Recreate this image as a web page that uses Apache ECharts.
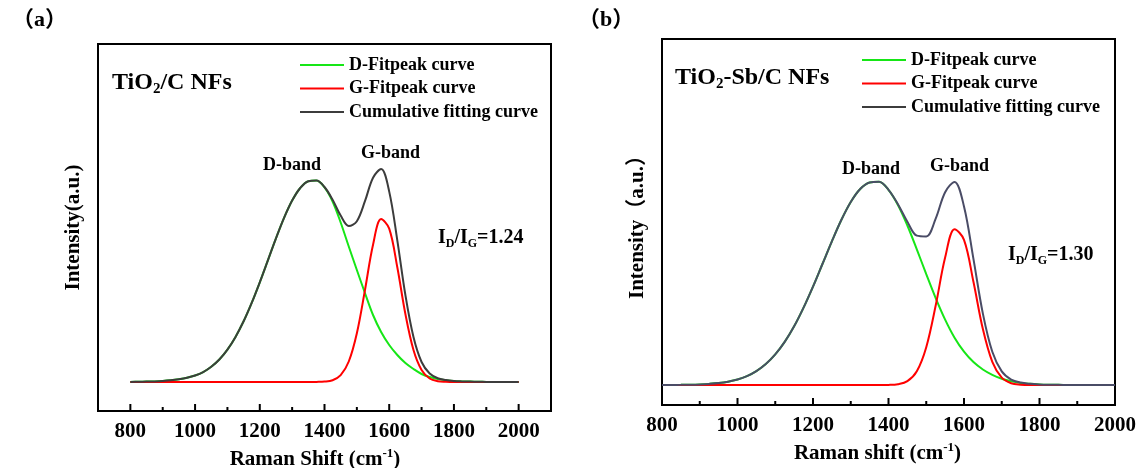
<!DOCTYPE html>
<html>
<head>
<meta charset="utf-8">
<style>
  html, body { margin: 0; padding: 0; background: #fff; }
  #main { width: 1146px; height: 468px; }
</style>
<script src="https://cdn.jsdelivr.net/npm/echarts@6/dist/echarts.min.js"></script>
</head>
<body>
<div id="main"></div>
<script>
// Raman shift positions (cm-1), every 25 cm-1, shared by both panels
const shift = [800, 825, 850, 875, 900, 925, 950, 975, 1000, 1025, 1050, 1075, 1100,
  1125, 1150, 1175, 1200, 1225, 1250, 1275, 1300, 1325, 1350, 1375, 1400, 1425,
  1450, 1475, 1500, 1525, 1550, 1575, 1600, 1625, 1650, 1675, 1700, 1725, 1750,
  1775, 1800, 1825, 1850, 1875, 1900, 1925, 1950, 1975, 2000];

// tick positions on the Raman shift axis
const majorTicks = [800, 1000, 1200, 1400, 1600, 1800, 2000];
const minorTicks = [900, 1100, 1300, 1500, 1700, 1900];

// (a) TiO2/C NFs  - intensity, arbitrary units
const dFitA = [0.1, 0.2, 0.4, 0.6, 1.0, 1.7, 2.8, 4.3, 6.5, 9.9, 15.2, 22.5, 32.4,
  45.1, 60.7, 79.1, 99.7, 121.6, 143.6, 164.1, 181.4, 194, 200.8, 201.4, 194.6, 180.5,
  159.5, 135.5, 112, 89, 67, 50, 37, 27, 19, 13, 8, 5, 3,
  1.8, 1, 0.6, 0.4, 0.2, 0.1, 0.05, 0, 0, 0];
const gFitA = [0, 0, 0, 0, 0, 0, 0, 0, 0, 0, 0, 0, 0,
  0, 0, 0, 0, 0, 0, 0, 0, 0, 0, 0.1, 0.4, 1.8,
  6.9, 20.5, 48.8, 91.8, 137.3, 162.9, 153.4, 114.7, 68, 32, 12, 3.5, 0.8,
  0.2, 0, 0, 0, 0, 0, 0, 0, 0, 0];
const cumA = [0.1, 0.2, 0.4, 0.6, 1.0, 1.7, 2.8, 4.3, 6.5, 9.9, 15.2, 22.5, 32.4,
  45.1, 60.7, 79.1, 99.7, 121.6, 143.6, 164.1, 181.4, 194, 200.8, 201.5, 195.0, 182.3,
  166.4, 156.0, 160.8, 180.8, 204.3, 212.9, 190.4, 141.7, 87, 45, 20, 8.5, 3.8,
  2.0, 1, 0.6, 0.4, 0.2, 0.1, 0.05, 0, 0, 0];

// (b) TiO2-Sb/C NFs
const dFitB = [0, 0.1, 0.15, 0.3, 0.6, 1.1, 1.9, 3.3, 5.5, 8.9, 13.9, 21, 30.6,
  43.1, 58.7, 77.4, 98.4, 121, 143.7, 165, 183, 196, 202.6, 203.2, 195.1, 180.0,
  159.5, 135.7, 110.8, 86.9, 65.4, 47.3, 33.3, 22.9, 15.5, 10.1, 6.3, 3.7, 2.1,
  1.2, 0.6, 0.3, 0.15, 0.05, 0, 0, 0, 0, 0];
const gFitB = [0, 0, 0, 0, 0, 0, 0, 0, 0, 0, 0, 0, 0,
  0, 0, 0, 0, 0, 0, 0, 0, 0, 0, 0, 0.1, 0.8,
  3.8, 13.7, 37.8, 79.5, 127.4, 155.8, 145.2, 103.2, 55.9, 23.1, 7.3, 1.7, 0.3,
  0, 0, 0, 0, 0, 0, 0, 0, 0, 0];
const cumB = [0, 0.1, 0.15, 0.3, 0.6, 1.1, 1.9, 3.3, 5.5, 8.9, 13.9, 21, 30.6,
  43.1, 58.7, 77.4, 98.4, 121, 143.7, 165, 183, 196, 202.6, 203.2, 195.2, 180.8,
  163.3, 149.4, 148.6, 166.4, 192.8, 203.1, 178.5, 126.1, 71.4, 33.2, 13.6, 5.4, 2.4,
  1.2, 0.6, 0.3, 0.15, 0.05, 0, 0, 0, 0, 0];

const seriesNames = ['D-Fitpeak curve', 'G-Fitpeak curve', 'Cumulative fitting curve'];

const FONT = "'Times New Roman', 'Liberation Serif', 'Noto Sans CJK SC', serif";
const yMinA = -29, yMaxA = 338;
const yMinB = -20, yMaxB = 346;
const pairs = arr => shift.map((x, i) => [x, arr[i]]);

const chart = echarts.init(document.getElementById('main'));

function line(name, data, color, xi, yi) {
  return {
    name, type: 'line', data: pairs(data),
    xAxisIndex: xi, yAxisIndex: yi,
    symbol: 'none', smooth: 0.35,
    lineStyle: { color, width: 2 }, itemStyle: { color }
  };
}

const tickText = { color: '#000', fontFamily: FONT, fontWeight: 'bold', fontSize: 21 };
const rich = {
  m: { fontFamily: FONT, fontWeight: 'bold', fontSize: 21, color: '#000', lineHeight: 24 },
  sup: { fontFamily: FONT, fontWeight: 'bold', fontSize: 13, color: '#000', lineHeight: 24, padding: [0, 0, 12, 0] }
};
const axisLine = { show: true, onZero: false, lineStyle: { color: '#000', width: 2 } };

function label(x, y, text, size) {
  return {
    type: 'text', x, y, z: 50,
    style: {
      text, fill: '#000', verticalAlign: 'middle',
      font: 'bold ' + size + 'px ' + FONT,
      rich: {
        t: { fontFamily: FONT, fontWeight: 'bold', fontSize: size, lineHeight: size + 6 },
        s: { fontFamily: FONT, fontWeight: 'bold', fontSize: Math.round(size * 0.62), lineHeight: size + 6, padding: [12, 0, 0, 0] }
      }
    }
  };
}

function legend(left, top) {
  return {
    data: seriesNames, orient: 'vertical', left, top, padding: 0,
    icon: 'rect', itemWidth: 44, itemHeight: 2, itemGap: 5.5, selectedMode: false,
    textStyle: { color: '#000', fontFamily: FONT, fontWeight: 'bold', fontSize: 18, lineHeight: 18 }
  };
}

const shownLabel = v => (majorTicks.indexOf(v) >= 0 ? String(v) : '');

const texts = [
  label(12, 20, '（a）', 22),
  label(578, 20, '（b）', 22),
  label(112, 83, '{t|TiO}{s|2}{t|/C NFs}', 24),
  label(675, 78, '{t|TiO}{s|2}{t|-Sb/C NFs}', 24),
  label(263, 165, 'D-band', 18),
  label(361, 153, 'G-band', 18),
  label(842, 169, 'D-band', 18),
  label(930, 166, 'G-band', 18),
  label(438, 238, '{t|I}{s|D}{t|/I}{s|G}{t|=1.24}', 20),
  label(1008, 255, '{t|I}{s|D}{t|/I}{s|G}{t|=1.30}', 20)
];

chart.setOption({
  animation: false,
  backgroundColor: '#fff',
  grid: [
    { left: 98, top: 44, width: 453, height: 367, show: true, borderColor: '#000', borderWidth: 2, outerBoundsMode: 'none' },
    { left: 662, top: 39, width: 453, height: 366, show: true, borderColor: '#000', borderWidth: 2, outerBoundsMode: 'none' }
  ],
  xAxis: [
    {
      gridIndex: 0, type: 'value', min: 700, max: 2100, interval: 100, position: 'bottom',
      axisLine, axisTick: { show: false },
      axisLabel: Object.assign({ margin: 10, formatter: shownLabel }, tickText),
      splitLine: { show: false },
      name: '{m|Raman Shift (cm}{sup|-1}{m|)}', nameLocation: 'middle', nameGap: 31,
      nameTextStyle: { rich, padding: [0, 19, 0, 0] }
    },
    {
      gridIndex: 1, type: 'value', min: 800, max: 2000, interval: 200, position: 'bottom',
      axisLine, axisTick: { show: false },
      axisLabel: Object.assign({ margin: 10, formatter: shownLabel }, tickText),
      splitLine: { show: false },
      name: '{m|Raman shift (cm}{sup|-1}{m|)}', nameLocation: 'middle', nameGap: 28,
      nameTextStyle: { rich, padding: [0, 22, 0, 0] }
    }
  ],
  yAxis: [
    {
      gridIndex: 0, type: 'value', min: yMinA, max: yMaxA,
      axisLine, axisTick: { show: false }, axisLabel: { show: false }, splitLine: { show: false },
      name: 'Intensity(a.u.)', nameLocation: 'middle', nameGap: 14,
      nameTextStyle: tickText
    },
    {
      gridIndex: 1, type: 'value', min: yMinB, max: yMaxB,
      axisLine, axisTick: { show: false }, axisLabel: { show: false }, splitLine: { show: false },
      name: 'Intensity（a.u.）', nameLocation: 'middle', nameGap: 14,
      nameTextStyle: tickText
    }
  ],
  legend: [legend(300, 56), legend(862, 51)],
  series: [
    line(seriesNames[0], dFitA, '#16e616', 0, 0),
    line(seriesNames[1], gFitA, '#ff0000', 0, 0),
    line(seriesNames[2], cumA, '#3c3c3c', 0, 0),
    line(seriesNames[0], dFitB, '#16e616', 1, 1),
    line(seriesNames[1], gFitB, '#ff0000', 1, 1),
    line(seriesNames[2], cumB, '#4a4c66', 1, 1)
  ],
  graphic: texts
});

// inward ticks on the bottom axes, placed through each panel's axis scale
function tickMarks(values, axisIndex, yMin, len) {
  return values.map(v => {
    const p = chart.convertToPixel({ xAxisIndex: axisIndex, yAxisIndex: axisIndex }, [v, yMin]);
    return {
      type: 'line', z: 100, silent: true,
      shape: { x1: p[0], y1: p[1], x2: p[0], y2: p[1] - len },
      style: { stroke: '#000', lineWidth: 2 }
    };
  });
}

chart.setOption({
  graphic: texts.concat(
    tickMarks(majorTicks, 0, yMinA, 7),
    tickMarks(minorTicks, 0, yMinA, 4),
    tickMarks(majorTicks, 1, yMinB, 7),
    tickMarks(minorTicks, 1, yMinB, 4)
  )
});
</script>
</body>
</html>
